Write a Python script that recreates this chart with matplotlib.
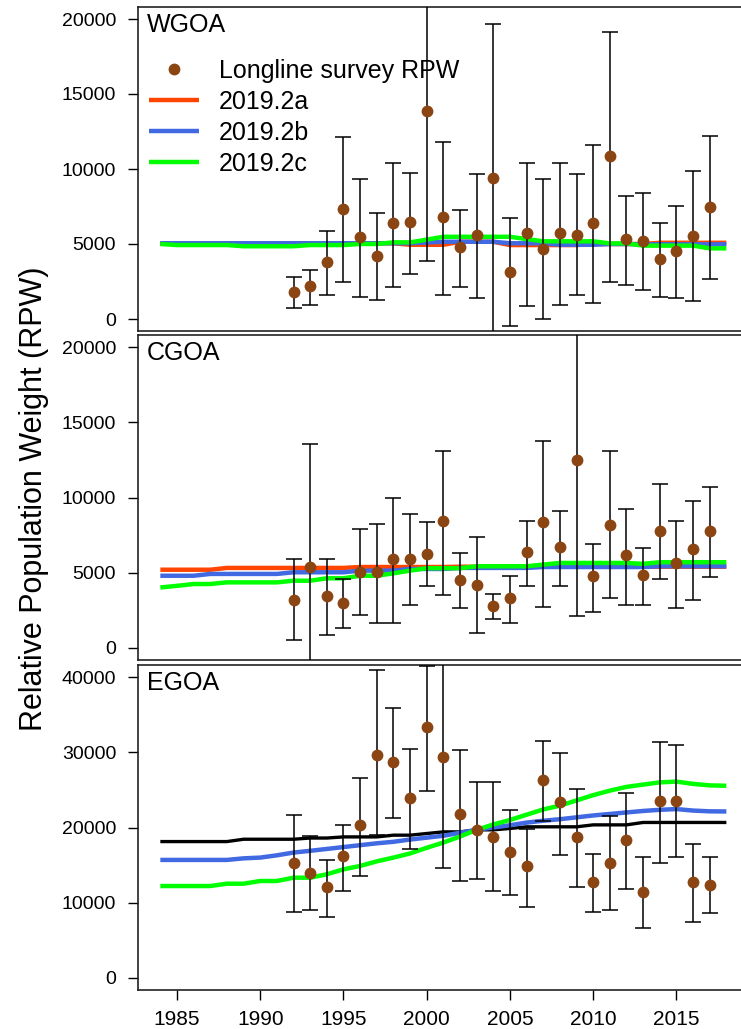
import numpy as np
import matplotlib
matplotlib.use("Agg")
import matplotlib.pyplot as plt

plt.rcParams['font.family'] = ['Liberation Sans', 'DejaVu Sans']

# ---- survey years and model years ----
survey_years = list(range(1992, 2018))
model_years = list(range(1984, 2019))

# ---- WGOA ----
wgoa_rpw = [1780, 2180, 3780, 7330, 5490, 4220, 6380, 6490, 13870, 6780,
            4780, 5600, 9380, 3160, 5710, 4670, 5710, 5620, 6380, 10890,
            5330, 5180, 4000, 4560, 5510, 7440]
wgoa_lo = [710, 960, 1600, 2440, 1490, 1270, 2160, 2980, 3840, 1600,
           2130, 1400, -910, -440, 840, 0, 960, 1600, 1070, 2440,
           2270, 1910, 1490, 1400, 1180, 2670]
wgoa_hi = [2780, 3290, 5890, 12160, 9330, 7070, 10380, 9760, 23890, 11780,
           7290, 9670, 19670, 6730, 10380, 9330, 10380, 9670, 11600, 19110,
           8220, 8380, 6420, 7510, 9870, 12220]
wgoa_a = [5050] * 15 + [4950] * 3 + [5150] * 3 + [4930] * 5 + [5000] * 4 + [5080] * 5
wgoa_b = [5050] * 16 + [5100] + [5150] * 4 + [5050] * 3 + [4950] * 3 + [5000] * 2 + [4980] * 6
wgoa_c = [5000, 4930, 4930, 4930, 4930, 4850, 4850, 4850, 4850, 4930,
          4930, 4930, 5000, 5000, 5110, 5110, 5290, 5480, 5480, 5480,
          5480, 5480, 5330, 5180, 5180, 5180, 5180, 5040, 5040, 4890,
          4890, 4890, 4890, 4710, 4710]

# ---- CGOA ----
cgoa_rpw = [3200, 5360, 3460, 3020, 5030, 5030, 5920, 5920, 6240, 8430,
            4540, 4180, 2790, 3350, 6370, 8340, 6710, 12520, 4760, 8200,
            6150, 4850, 7780, 5630, 6590, 7780]
cgoa_lo = [560, -2820, 830, 1340, 2190, 1680, 1680, 2840, 4140, 3510,
           2640, 1010, 1900, 1680, 4140, 2750, 4140, 2100, 2410, 3290,
           2840, 2840, 4580, 2640, 3170, 4690]
cgoa_hi = [5880, 13540, 5880, 4580, 7930, 8250, 9970, 8920, 8380, 13120,
           6300, 7380, 3580, 4810, 8450, 13750, 9120, 22930, 6930, 13120,
           9210, 6640, 10880, 8450, 9770, 10730]
cgoa_a = [5200] * 4 + [5320] * 8 + [5380] * 6 + [5400] * 17
cgoa_b = [4800] * 3 + [4920] * 5 + [5030] * 4 + [5140] * 3 + [5250] * 3 + [5320] * 5 + [5380] * 7 + [5430] * 5
cgoa_c = [4020, 4130, 4250, 4250, 4360, 4360, 4360, 4360, 4470, 4470,
          4630, 4630, 4800, 4800, 4960, 5140, 5300, 5300, 5300, 5430,
          5430, 5430, 5430, 5540, 5650, 5650, 5650, 5650, 5650, 5590,
          5700, 5700, 5700, 5700, 5700]

# ---- EGOA ----
egoa_rpw = [15330, 14000, 12130, 16220, 20310, 29690, 28670, 23910, 33420, 29330,
            21780, 19690, 18760, 16800, 14890, 26310, 23330, 18760, 12760, 15330,
            18360, 11470, 23470, 23470, 12760, 12310]
egoa_lo = [8760, 9020, 8130, 11560, 13560, 19020, 21240, 17200, 24890, 14580,
           12890, 13110, 11560, 10980, 9470, 20890, 16310, 12090, 8760, 9020,
           11870, 6620, 15240, 16090, 7470, 8580]
egoa_hi = [21640, 18890, 15690, 20360, 26580, 40890, 35910, 30440, 41500, 44090,
           30270, 26000, 26000, 22310, 19780, 31560, 29870, 25110, 16530, 21470,
           24530, 16090, 31420, 30930, 17780, 16090]
egoa_a = [18130] * 5 + [18440] * 4 + [18600] * 2 + [18750] * 3 + [18980] * 2 + [19200] + [19420] * 2 + [19690] * 2 + [19870] + [20090] * 4 + [20350] * 3 + [20670] * 6
egoa_b = [15690, 15690, 15690, 15690, 15690, 15900, 16000, 16300, 16670, 16900,
          17150, 17400, 17650, 17900, 18100, 18400, 18650, 18900, 19300, 19700,
          20000, 20300, 20650, 20900, 21100, 21350, 21600, 21800, 22000, 22200,
          22350, 22450, 22250, 22150, 22130]
egoa_c = [12220, 12220, 12220, 12220, 12530, 12530, 12890, 12890, 13330, 13330,
          13780, 14440, 14890, 15500, 16000, 16550, 17300, 18000, 18800, 19700,
          20400, 21000, 21700, 22400, 22900, 23600, 24300, 24900, 25400, 25700,
          26000, 26100, 25800, 25600, 25550]

region_names = ["WGOA", "CGOA", "EGOA"]
series_labels = ["2019.2a", "2019.2b", "2019.2c"]
survey_label = "Longline survey RPW"

panels = [
    dict(name="WGOA", rpw=wgoa_rpw, lo=wgoa_lo, hi=wgoa_hi,
         models=[wgoa_a, wgoa_b, wgoa_c], colors=["#FF4500", "#4169E1", "#00FF00"],
         yticks=[0, 5000, 10000, 15000, 20000], ymax=20000),
    dict(name="CGOA", rpw=cgoa_rpw, lo=cgoa_lo, hi=cgoa_hi,
         models=[cgoa_a, cgoa_b, cgoa_c], colors=["#FF4500", "#4169E1", "#00FF00"],
         yticks=[0, 5000, 10000, 15000, 20000], ymax=20000),
    dict(name="EGOA", rpw=egoa_rpw, lo=egoa_lo, hi=egoa_hi,
         models=[egoa_a, egoa_b, egoa_c], colors=["#000000", "#4169E1", "#00FF00"],
         yticks=[0, 10000, 20000, 30000, 40000], ymax=40000),
]

W, H = 741, 1029
fig = plt.figure(figsize=(W / 100, H / 100), dpi=100)

left_px, right_px = 137.7, 749.0
boxes_px = [(7, 331), (335, 660), (665, 990)]  # (top, bottom) of each panel

x0, x1 = 1984, 2018
xpad = 0.04 * (x1 - x0)
brown = "#8B4513"

for i, (p, (top, bot)) in enumerate(zip(panels, boxes_px)):
    ax = fig.add_axes([left_px / W, 1 - bot / H, (right_px - left_px) / W, (bot - top) / H])
    ypad = 0.04 * p["ymax"]
    ax.set_xlim(x0 - xpad, x1 + xpad)
    ax.set_ylim(-ypad, p["ymax"] + ypad)

    lw_list = [3.2, 3.2, 3.2] if i < 2 else [2.4, 3.2, 3.2]
    handles = []
    for vals, col, lab, lw in zip(p["models"], p["colors"], series_labels, lw_list):
        h, = ax.plot(model_years, vals, color=col, lw=lw, label=lab,
                     solid_capstyle="butt", zorder=2)
        handles.append(h)

    rpw = np.array(p["rpw"], dtype=float)
    lo = np.array(p["lo"], dtype=float)
    hi = np.array(p["hi"], dtype=float)
    ax.errorbar(survey_years, rpw, yerr=[rpw - lo, hi - rpw], fmt="none",
                ecolor="black", elinewidth=1.1, capsize=5.5, capthick=1.1, zorder=3)
    pts, = ax.plot(survey_years, rpw, "o", color=brown, ms=8.5, mew=0,
                   label=survey_label, zorder=4)

    ax.set_yticks(p["yticks"])
    ax.set_yticklabels([str(v) for v in p["yticks"]], fontsize=14)
    ax.tick_params(axis="y", direction="out", length=7.5, width=1.0, pad=8)

    if i == 2:
        xt = [1985, 1990, 1995, 2000, 2005, 2010, 2015]
        ax.set_xticks(xt)
        ax.set_xticklabels([str(v) for v in xt], fontsize=15)
        ax.tick_params(axis="x", direction="out", length=7.5, width=1.0, pad=7)
    else:
        ax.tick_params(axis="x", bottom=False, labelbottom=False)

    for s in ax.spines.values():
        s.set_linewidth(1.2)
        s.set_color("#222222")

    ax.text(0.0147, 1 - (31.7 - 7) / 324, p["name"], transform=ax.transAxes,
            fontsize=18, ha="left", va="baseline")

    if i == 0:
        ax.legend([pts] + handles, [survey_label] + series_labels,
                  loc="upper left", bbox_to_anchor=(0.0185, 0.840),
                  frameon=False, fontsize=18, handlelength=2.0,
                  handletextpad=0.8, labelspacing=0.28, borderpad=0,
                  borderaxespad=0, numpoints=1)

fig.text(34 / W, 1 - 499 / H, "Relative Population Weight (RPW)", rotation=90,
         fontsize=22, ha="center", va="center")

fig.savefig("out.png", dpi=100)
